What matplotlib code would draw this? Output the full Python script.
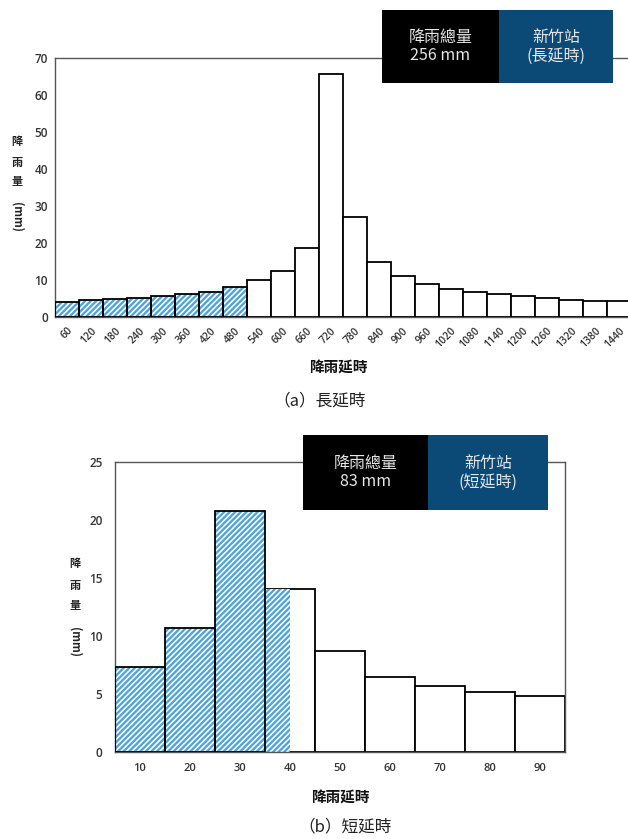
import matplotlib
matplotlib.use("Agg")
import matplotlib.pyplot as plt
from matplotlib.patches import Rectangle

plt.rcParams['font.family'] = ['Noto Sans CJK TC', 'DejaVu Sans']
plt.rcParams['hatch.linewidth'] = 1.2

# Long-duration storm (minutes, rainfall mm)
long_minutes = [60, 120, 180, 240, 300, 360, 420, 480, 540, 600, 660, 720,
                780, 840, 900, 960, 1020, 1080, 1140, 1200, 1260, 1320, 1380, 1440]
long_rain = [4.1, 4.6, 4.9, 5.1, 5.8, 6.3, 6.8, 8.0, 10.0, 12.4, 18.7, 65.7,
             26.9, 14.8, 11.1, 9.0, 7.6, 6.7, 6.1, 5.6, 5.2, 4.7, 4.3, 4.3]
long_highlight = 8          # first n bars drawn hatched
long_total = "256 mm"
long_title = "(長延時)"

# Short-duration storm (minutes, rainfall mm)
short_minutes = [10, 20, 30, 40, 50, 60, 70, 80, 90]
short_rain = [7.33, 10.66, 20.8, 14.05, 8.7, 6.47, 5.72, 5.17, 4.8]
short_highlight_end = 40    # hatched up to this duration
short_total = "83 mm"
short_title = "(短延時)"

station = "新竹站"
ylabel_chars = ["降", "雨", "量"]
xlabel = "降雨延時"

BLUE = "#4aa3df"
BOX_BLUE = "#0b4a76"
W, H = 628, 839

fig = plt.figure(figsize=(W / 100, H / 100), dpi=100)


def fx(px):
    return px / W


def fy(py):
    return 1 - py / H


def hatched_bar(ax, x, h, width, align="center", edge=True):
    ax.bar(x, h, width=width, align=align, color=BLUE, edgecolor="white",
           hatch="//////", linewidth=0, zorder=2)
    if edge:
        ax.bar(x, h, width=width, align=align, facecolor="none",
               edgecolor="black", linewidth=1.3, zorder=3)


def style_axes(ax):
    for s in ax.spines.values():
        s.set_color("#555555")
        s.set_linewidth(1.0)
    ax.tick_params(length=0, colors="#333333")
    for lbl in ax.get_yticklabels() + ax.get_xticklabels():
        lbl.set_fontfamily(["Open Sans", "DejaVu Sans"])
        lbl.set_fontweight("semibold")


def legend_boxes(x0, xm, x1, y0, y1, total, title):
    fig.patches.append(Rectangle((fx(x0), fy(y1)), fx(xm - x0), (y1 - y0) / H,
                                 transform=fig.transFigure, facecolor="black",
                                 edgecolor="none", zorder=5))
    fig.patches.append(Rectangle((fx(xm), fy(y1)), fx(x1 - xm), (y1 - y0) / H,
                                 transform=fig.transFigure, facecolor=BOX_BLUE,
                                 edgecolor="none", zorder=5))
    yc = fy((y0 + y1) / 2)
    fig.text(fx((x0 + xm) / 2), yc, "降雨總量\n" + total, ha="center", va="center",
             color="#e6e6e6", fontsize=11.5, fontweight="medium",
             linespacing=1.15, zorder=6)
    fig.text(fx((xm + x1) / 2), yc, station + "\n" + title, ha="center", va="center",
             color="#e6e6e6", fontsize=11.5, fontweight="medium",
             linespacing=1.15, zorder=6)


def ylabel(xc, y_top, gap):
    for i, ch in enumerate(ylabel_chars):
        fig.text(fx(xc), fy(y_top + i * gap), ch, ha="center", va="center",
                 fontsize=8, fontweight="bold", color="#222222")
    fig.text(fx(xc), fy(y_top + 3 * gap + 15), "(mm)", ha="center", va="center",
             rotation=-90, fontsize=8, fontweight="bold", color="#222222")


# ---------------- (a) long duration ----------------
ax1 = fig.add_axes([fx(55), fy(317), fx(576), 259 / H])
step = 60
ax1.bar(long_minutes[long_highlight:], long_rain[long_highlight:], width=step,
        facecolor="white", edgecolor="black", linewidth=1.3, zorder=3)
hatched_bar(ax1, long_minutes[:long_highlight], long_rain[:long_highlight], step)
ax1.set_xlim(long_minutes[0] - step / 2, long_minutes[-1] + step / 2)
ax1.set_ylim(0, 70)
ax1.set_yticks(range(0, 71, 10))
ax1.set_xticks(long_minutes)
ax1.set_xticklabels([str(m) for m in long_minutes], rotation=45,
                    ha="right", va="top", rotation_mode="anchor", fontsize=7.5)
ax1.tick_params(axis="x", pad=6)
ax1.tick_params(axis="y", labelsize=8.5, pad=5)
style_axes(ax1)

legend_boxes(382, 499, 613, 10, 83, long_total, long_title)
ylabel(17, 142, 20)
fig.text(fx(338), fy(368), xlabel, ha="center", va="center", fontsize=10.5,
         fontweight="bold", color="#111111")
fig.text(fx(320), fy(401), "（a）長延時", ha="center", va="center", fontsize=12,
         color="#222222")

# ---------------- (b) short duration ----------------
ax2 = fig.add_axes([fx(115), fy(752), fx(450), 290 / H])
w = 10
full = [m for m in short_minutes if m < short_highlight_end]
full_h = short_rain[:len(full)]
part_idx = len(full)
ax2.bar(short_minutes[part_idx:], short_rain[part_idx:], width=w,
        facecolor="white", edgecolor="black", linewidth=1.3, zorder=1.5)
hatched_bar(ax2, full, full_h, w)
# partially highlighted bin: hatched from its left edge up to the cutoff
left = short_minutes[part_idx] - w / 2
ax2.bar(left, short_rain[part_idx], width=short_highlight_end - left, align="edge",
        color=BLUE, edgecolor="white", hatch="//////", linewidth=0, zorder=2)
ax2.set_xlim(short_minutes[0] - w / 2, short_minutes[-1] + w / 2)
ax2.set_ylim(0, 25)
ax2.set_yticks(range(0, 26, 5))
ax2.set_xticks(short_minutes)
ax2.tick_params(axis="x", labelsize=8, pad=8)
ax2.tick_params(axis="y", labelsize=8.5, pad=9)
style_axes(ax2)

legend_boxes(303, 428, 548, 435, 510, short_total, short_title)
ylabel(75, 564, 21)
fig.text(fx(340), fy(798), xlabel, ha="center", va="center", fontsize=10.5,
         fontweight="bold", color="#111111")
fig.text(fx(345), fy(827), "（b）短延時", ha="center", va="center", fontsize=12,
         color="#222222")

fig.savefig("out.png", dpi=100, facecolor="white")
